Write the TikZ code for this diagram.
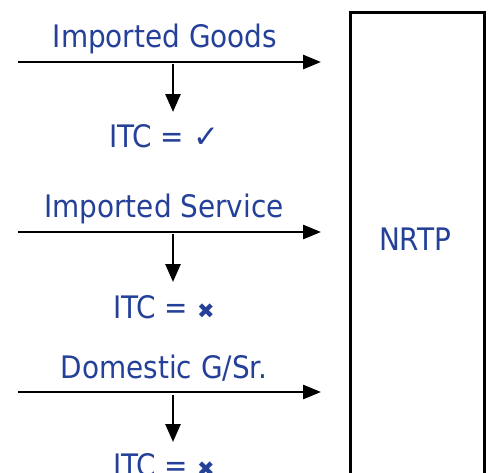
\documentclass[tikz,border=0pt]{standalone}
\usepackage{fontspec}
\setmainfont{DejaVu Sans Condensed}
\newfontfamily\symfont{DejaVu Sans}
\usetikzlibrary{arrows.meta}
\definecolor{labelblue}{RGB}{36,64,152}
\tikzset{
  flowlabel/.style={anchor=base, text=labelblue, inner sep=0pt, font=\fontsize{31}{34}\selectfont},
  flowarrow/.style={line width=2.8pt, -{Triangle[length=18pt,width=14pt]}},
  creditarrow/.style={line width=2.8pt, -{Triangle[length=18pt,width=15pt]}}
}
\begin{document}
\begin{tikzpicture}[x=1pt,y=-1pt]
    \useasboundingbox (0,0) rectangle (488,472);
    \clip (0,0) rectangle (488,472);

    % receiving box
    \draw[line width=3pt] (350,490) -- (350,12) -- (484,12) -- (484,490);
    \node[flowlabel] (nrtp) at (415,250) {NRTP};

    % row labels
    \node[flowlabel] (goods) at (165,47) {Imported Goods};
    \node[flowlabel] (service) at (164,217) {Imported Service};
    \node[flowlabel] (domestic) at (164,378) {Domestic G/Sr.};

    \node[flowlabel] (itcgoods) at (164,147) {ITC = {\symfont ✓}};
    \node[flowlabel] (itcservice) at (164,318) {ITC = {\symfont\fontsize{21}{23}\selectfont ✖}};
    \node[flowlabel] (itcdomestic) at (164,476) {ITC = {\symfont\fontsize{21}{23}\selectfont ✖}};

    % flows
    \coordinate (gstart) at (18,62);
    \coordinate (gend) at (321,62);
    \coordinate (sstart) at (18,232);
    \coordinate (send) at (321,232);
    \coordinate (dstart) at (18,392);
    \coordinate (dend) at (321,392);

    \draw[flowarrow] (gstart) -- (gend);
    \draw[flowarrow] (sstart) -- (send);
    \draw[flowarrow] (dstart) -- (dend);

    % credit arrows
    \draw[creditarrow] (173,64) -- (173,112);
    \draw[creditarrow] (173,234) -- (173,282);
    \draw[creditarrow] (173,395) -- (173,442);
  \end{tikzpicture}
\end{document}
